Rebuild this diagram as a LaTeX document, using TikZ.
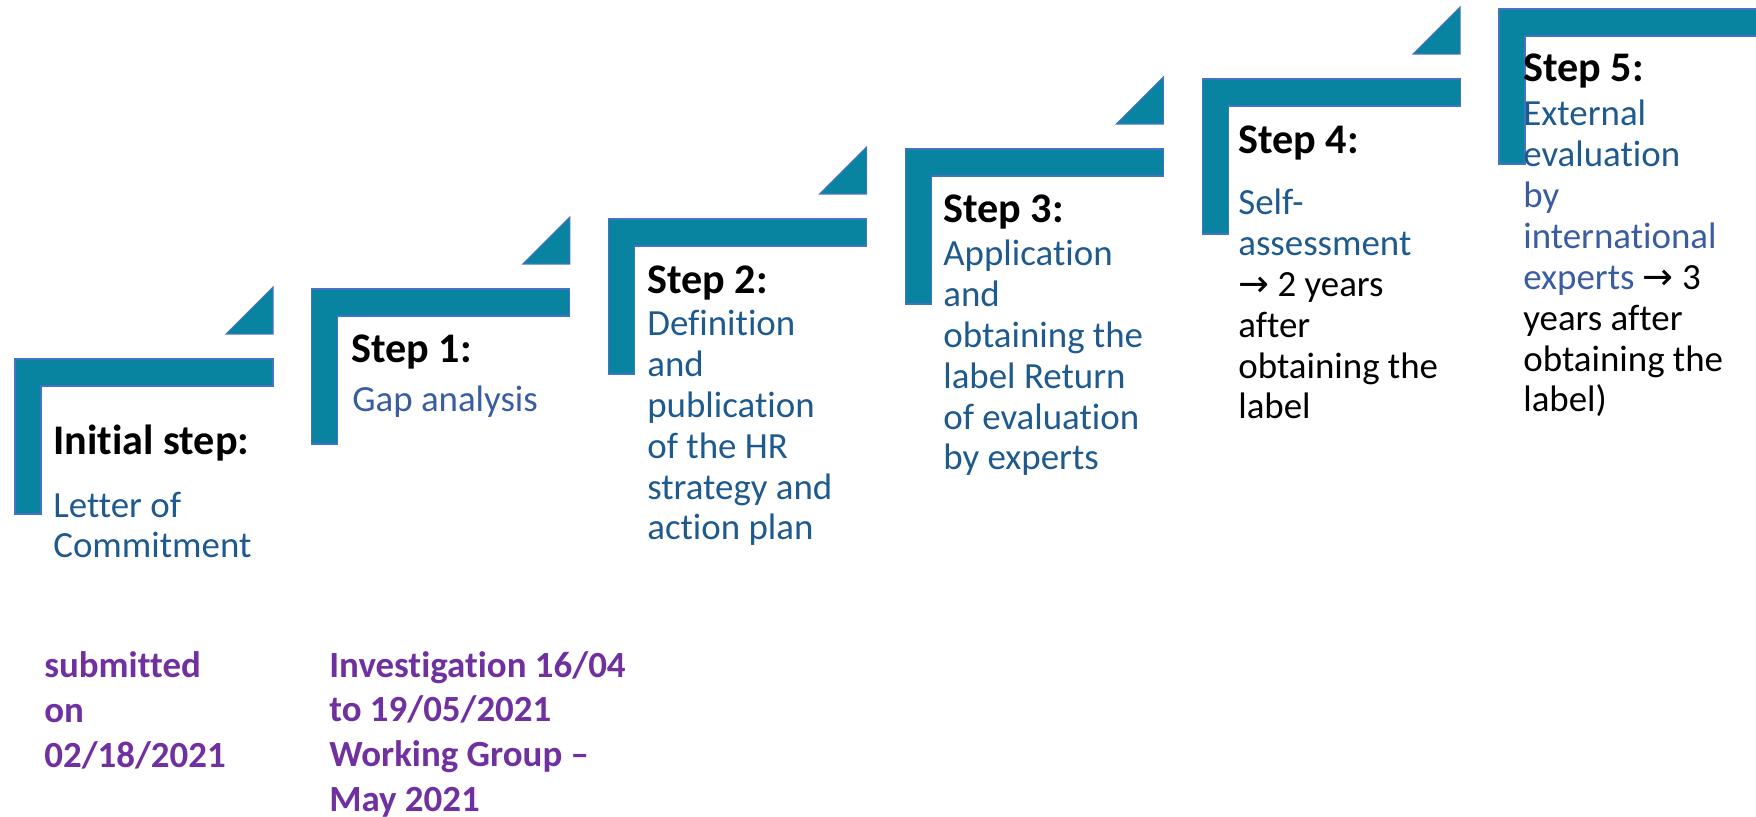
\documentclass[tikz,border=0pt]{standalone}
\usepackage{fontspec}
\setmainfont{Carlito}[Ligatures=NoCommon]
\newfontfamily\arrowfont{DejaVu Sans}
\definecolor{stepfill}{HTML}{0884A0}
\definecolor{stepline}{HTML}{4472C4}
\definecolor{bodyblue}{HTML}{1F5A8E}
\definecolor{gapblue}{HTML}{3A5DA2}
\definecolor{datepurple}{HTML}{7030A0}
\newcommand{\toarrow}{{\arrowfont\char"2192}}

\begin{document}
\begin{tikzpicture}[x=0.02cm,y=-0.02cm,
    stair/.style={fill=stepfill,draw=stepline,line width=0.6pt},
    head/.style={anchor=base west,inner sep=0pt,font=\fontsize{24}{28}\selectfont\bfseries},
    body/.style={anchor=base west,inner sep=0pt,align=left,font=\fontsize{21}{23.3}\selectfont,text=bodyblue},
    date/.style={anchor=base west,inner sep=0pt,align=left,font=\fontsize{21}{25.4}\selectfont\bfseries,text=datepurple}]
  \useasboundingbox (0,0) rectangle (1756,817);
  % stairs
  \foreach \i in {0,...,5}{
    \pgfmathsetmacro{\sx}{15+296.8*\i}
    \pgfmathsetmacro{\sy}{359-70*\i}
    \draw[stair] (\sx,\sy) -- ++(258,0) -- ++(0,27) -- ++(-232,0) -- ++(0,128) -- ++(-26,0) -- cycle;
    \ifnum\i<5
      \draw[stair] (\sx+211,\sy-25) -- (\sx+258,\sy-72) -- (\sx+258,\sy-25) -- cycle;
    \fi
  }
  % headings
  \node[head] (head0) at (53,455) {Initial step:};
  \node[head] (head1) at (351,363) {Step 1:};
  \node[head] (head2) at (647,294) {Step 2:};
  \node[head] (head3) at (943,223) {Step 3:};
  \node[head] (head4) at (1238,154) {Step 4:};
  \node[head] (head5) at (1523,82) {Step 5:};
  % texts (placed at the baseline of their last line)
  \node[body] (body0) at (53,558) {Letter of\\Commitment};
  \node[body,text=gapblue] (body1) at (352,412) {Gap analysis};
  \node[body] (body2) at (647,540) {Definition\\and\\publication\\of the HR\\strategy and\\action plan};
  \node[body] (body3) at (943,470) {Application\\and\\obtaining the\\label Return\\of evaluation\\by experts};
  \node[body,text=black] (body4) at (1238,419) {\textcolor{bodyblue}{Self-}\\\textcolor{bodyblue}{assessment}\\\toarrow{} 2 years\\after\\obtaining the\\label};
  \node[body,text=black] (body5) at (1523,412) {\textcolor{bodyblue}{External}\\\textcolor{bodyblue}{evaluation}\\\textcolor{gapblue}{by}\\\textcolor{gapblue}{international}\\\textcolor{gapblue}{experts} \toarrow{} 3\\years after\\obtaining the\\label)};
  % dates
  \node[date] (date0) at (44,767) {submitted\\on\\02/18/2021};
  \node[date] (date1) at (329,811) {Investigation 16/04\\to 19/05/2021\\Working Group --\\May 2021};
\end{tikzpicture}
\end{document}
